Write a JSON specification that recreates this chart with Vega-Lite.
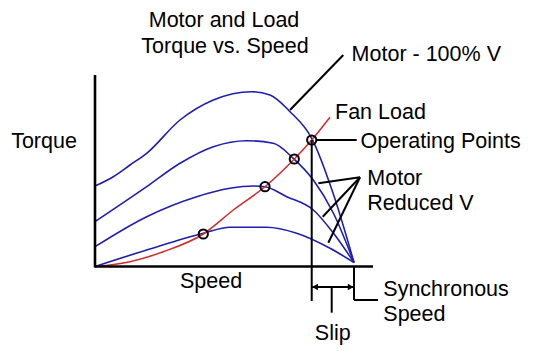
{
  "$schema": "https://vega.github.io/schema/vega-lite/v6.json",
  "width": 540,
  "height": 358,
  "padding": 0,
  "autosize": {"type": "fit", "contains": "padding"},
  "background": "white",
  "config": {"view": {"stroke": null}, "text": {"font": "Liberation Sans", "fontSize": 21.5, "color": "black"}},
  "datasets": {
    "motor": [
      {"curve": "100%", "speed": 0, "torque": 40.25},
      {"curve": "100%", "speed": 7.07, "torque": 44.9},
      {"curve": "100%", "speed": 13.51, "torque": 50.75},
      {"curve": "100%", "speed": 19.96, "torque": 56.6},
      {"curve": "100%", "speed": 32.82, "torque": 73.25},
      {"curve": "100%", "speed": 45.68, "torque": 83.25},
      {"curve": "100%", "speed": 60.5, "torque": 87.4},
      {"curve": "100%", "speed": 67.57, "torque": 85.75},
      {"curve": "100%", "speed": 75.29, "torque": 77.4},
      {"curve": "100%", "speed": 83.67, "torque": 64.1},
      {"curve": "100%", "speed": 91.89, "torque": 36.75},
      {"curve": "100%", "speed": 100, "torque": 2},
      {"curve": "r1", "speed": 0, "torque": 22.4},
      {"curve": "r1", "speed": 19.96, "torque": 39.9},
      {"curve": "r1", "speed": 32.82, "torque": 51.6},
      {"curve": "r1", "speed": 45.68, "torque": 59.9},
      {"curve": "r1", "speed": 58.57, "torque": 62.9},
      {"curve": "r1", "speed": 68.84, "torque": 61.6},
      {"curve": "r1", "speed": 76.56, "torque": 54.1},
      {"curve": "r1", "speed": 84.29, "torque": 43.25},
      {"curve": "r1", "speed": 92.01, "torque": 26.75},
      {"curve": "r1", "speed": 100, "torque": 2},
      {"curve": "r2", "speed": 0, "torque": 9.9},
      {"curve": "r2", "speed": 19.96, "torque": 24.9},
      {"curve": "r2", "speed": 39.27, "torque": 34.9},
      {"curve": "r2", "speed": 52.12, "torque": 39.1},
      {"curve": "r2", "speed": 61.12, "torque": 40.25},
      {"curve": "r2", "speed": 65.64, "torque": 39.9},
      {"curve": "r2", "speed": 74.02, "torque": 34.9},
      {"curve": "r2", "speed": 84.29, "torque": 28.25},
      {"curve": "r2", "speed": 92.01, "torque": 16.75},
      {"curve": "r2", "speed": 100, "torque": 2},
      {"curve": "r3", "speed": 0, "torque": 0},
      {"curve": "r3", "speed": 19.96, "torque": 8.25},
      {"curve": "r3", "speed": 41.81, "torque": 16.6},
      {"curve": "r3", "speed": 52.12, "torque": 19.6},
      {"curve": "r3", "speed": 66.29, "torque": 19.6},
      {"curve": "r3", "speed": 77.88, "torque": 16.6},
      {"curve": "r3", "speed": 90.73, "torque": 9.1},
      {"curve": "r3", "speed": 100, "torque": 2}
    ],
    "fan": [
      {"speed": 0, "torque": 0},
      {"speed": 13.51, "torque": 2.4},
      {"speed": 26.37, "torque": 7.4},
      {"speed": 41.81, "torque": 16.25},
      {"speed": 53.4, "torque": 28.25},
      {"speed": 65.64, "torque": 39.9},
      {"speed": 76.95, "torque": 53.75},
      {"speed": 83.67, "torque": 63.25},
      {"speed": 90.73, "torque": 74.6}
    ],
    "ops": [
      {"speed": 41.81, "torque": 16.25},
      {"speed": 65.64, "torque": 39.9},
      {"speed": 76.95, "torque": 53.75},
      {"speed": 83.67, "torque": 63.25}
    ],
    "axes": [
      {"x1": 0, "y1": 95.75, "x2": 0, "y2": -0.5},
      {"x1": 0, "y1": 0, "x2": 107.34, "y2": 0}
    ],
    "segs": [
      {"x1": 83.67, "y1": 63.25, "x2": 83.67, "y2": -17.25},
      {"x1": 100, "y1": 0, "x2": 100, "y2": -16.75},
      {"x1": 100, "y1": -16.75, "x2": 109.27, "y2": -16.75},
      {"x1": 83.67, "y1": -10.25, "x2": 100, "y2": -10.25},
      {"x1": 91.39, "y1": -10.25, "x2": 91.39, "y2": -23.1},
      {"x1": 75.29, "y1": 78.25, "x2": 95.87, "y2": 105.75},
      {"x1": 85.5, "y1": 63.25, "x2": 101.04, "y2": 63.25},
      {"x1": 102.32, "y1": 44.6, "x2": 86.22, "y2": 41.6},
      {"x1": 102.32, "y1": 44.6, "x2": 87.92, "y2": 24.9},
      {"x1": 102.32, "y1": 44.6, "x2": 90.08, "y2": 11.9}
    ],
    "arrows": [
      {"x": 84.94, "y": -10.25, "dir": "left"},
      {"x": 98.73, "y": -10.25, "dir": "right"}
    ],
    "leftText": [
      {"x": 99.07, "y": 102.75, "label": "Motor - 100% V"},
      {"x": 92.66, "y": 73.9, "label": "Fan Load"},
      {"x": 102.51, "y": 59.1, "label": "Operating Points"},
      {"x": 105.14, "y": 40.75, "label": "Motor"},
      {"x": 105.14, "y": 28.25, "label": "Reduced V"},
      {"x": 111.31, "y": -14.75, "label": "Synchronous"},
      {"x": 111.31, "y": -27, "label": "Speed"}
    ],
    "centerText": [
      {"x": 49.81, "y": 119.6, "label": "Motor and Load"},
      {"x": 50.19, "y": 106.6, "label": "Torque vs. Speed"},
      {"x": -19.69, "y": 59.1, "label": "Torque"},
      {"x": 44.79, "y": -10.9, "label": "Speed"},
      {"x": 91.78, "y": -36.75, "label": "Slip"}
    ]
  },
  "layer": [
    {
      "data": {"name": "motor"},
      "mark": {"type": "line", "interpolate": "monotone", "color": "#1e1eb0", "strokeWidth": 1.6},
      "encoding": {
        "x": {"field": "speed", "type": "quantitative", "scale": {"domain": [-36.68, 171.81], "nice": false, "zero": false}, "axis": null},
        "y": {"field": "torque", "type": "quantitative", "scale": {"domain": [-45.75, 133.25], "nice": false, "zero": false}, "axis": null},
        "detail": {"field": "curve"}
      }
    },
    {
      "data": {"name": "fan"},
      "mark": {"type": "line", "interpolate": "monotone", "color": "#d42a2a", "strokeWidth": 1.5},
      "encoding": {
        "x": {"field": "speed", "type": "quantitative", "scale": {"domain": [-36.68, 171.81], "nice": false, "zero": false}, "axis": null},
        "y": {"field": "torque", "type": "quantitative", "scale": {"domain": [-45.75, 133.25], "nice": false, "zero": false}, "axis": null}
      }
    },
    {
      "data": {"name": "axes"},
      "mark": {"type": "rule", "color": "black", "strokeWidth": 2.6},
      "encoding": {
        "x": {"field": "x1", "type": "quantitative", "scale": {"domain": [-36.68, 171.81], "nice": false, "zero": false}, "axis": null},
        "y": {"field": "y1", "type": "quantitative", "scale": {"domain": [-45.75, 133.25], "nice": false, "zero": false}, "axis": null},
        "x2": {"field": "x2"},
        "y2": {"field": "y2"}
      }
    },
    {
      "data": {"name": "segs"},
      "mark": {"type": "rule", "color": "black", "strokeWidth": 2},
      "encoding": {
        "x": {"field": "x1", "type": "quantitative", "scale": {"domain": [-36.68, 171.81], "nice": false, "zero": false}, "axis": null},
        "y": {"field": "y1", "type": "quantitative", "scale": {"domain": [-45.75, 133.25], "nice": false, "zero": false}, "axis": null},
        "x2": {"field": "x2"},
        "y2": {"field": "y2"}
      }
    },
    {
      "data": {"name": "arrows"},
      "mark": {"type": "point", "filled": true, "color": "black", "size": 45, "opacity": 1},
      "encoding": {
        "x": {"field": "x", "type": "quantitative", "scale": {"domain": [-36.68, 171.81], "nice": false, "zero": false}, "axis": null},
        "y": {"field": "y", "type": "quantitative", "scale": {"domain": [-45.75, 133.25], "nice": false, "zero": false}, "axis": null},
        "shape": {"field": "dir", "type": "nominal", "scale": {"domain": ["left", "right"], "range": ["triangle-left", "triangle-right"]}, "legend": null}
      }
    },
    {
      "data": {"name": "ops"},
      "mark": {"type": "point", "shape": "circle", "filled": false, "color": "black", "strokeWidth": 2, "size": 85, "opacity": 1},
      "encoding": {
        "x": {"field": "speed", "type": "quantitative", "scale": {"domain": [-36.68, 171.81], "nice": false, "zero": false}, "axis": null},
        "y": {"field": "torque", "type": "quantitative", "scale": {"domain": [-45.75, 133.25], "nice": false, "zero": false}, "axis": null}
      }
    },
    {
      "data": {"name": "leftText"},
      "mark": {"type": "text", "align": "left", "baseline": "alphabetic"},
      "encoding": {
        "x": {"field": "x", "type": "quantitative", "scale": {"domain": [-36.68, 171.81], "nice": false, "zero": false}, "axis": null},
        "y": {"field": "y", "type": "quantitative", "scale": {"domain": [-45.75, 133.25], "nice": false, "zero": false}, "axis": null},
        "text": {"field": "label"}
      }
    },
    {
      "data": {"name": "centerText"},
      "mark": {"type": "text", "align": "center", "baseline": "alphabetic"},
      "encoding": {
        "x": {"field": "x", "type": "quantitative", "scale": {"domain": [-36.68, 171.81], "nice": false, "zero": false}, "axis": null},
        "y": {"field": "y", "type": "quantitative", "scale": {"domain": [-45.75, 133.25], "nice": false, "zero": false}, "axis": null},
        "text": {"field": "label"}
      }
    }
  ]
}
